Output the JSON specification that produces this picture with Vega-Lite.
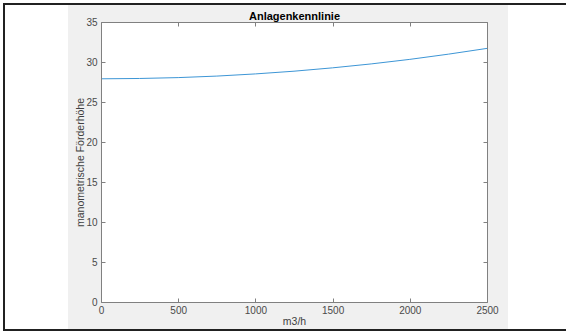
{
  "$schema": "https://vega.github.io/schema/vega-lite/v6.json",
  "width": 386,
  "height": 280,
  "autosize": {"type": "none"},
  "padding": {"left": 101, "top": 22, "right": 79, "bottom": 29},
  "background": "white",
  "config": {
    "view": {"stroke": null},
    "font": "Liberation Sans",
    "axis": {
      "domainColor": "#808080",
      "domainWidth": 1,
      "tickColor": "#808080",
      "tickWidth": 1,
      "tickSize": -4,
      "grid": false,
      "labelFont": "Liberation Sans",
      "labelFontSize": 10,
      "labelColor": "#4a4a4a",
      "titleFont": "Liberation Sans",
      "titleFontSize": 10.5,
      "titleFontWeight": "normal",
      "titleColor": "#404040"
    }
  },
  "data": {
    "values": [
      {"Q": 0, "H": 27.90},
      {"Q": 250, "H": 27.94},
      {"Q": 500, "H": 28.05},
      {"Q": 750, "H": 28.24},
      {"Q": 1000, "H": 28.51},
      {"Q": 1250, "H": 28.85},
      {"Q": 1500, "H": 29.27},
      {"Q": 1750, "H": 29.76},
      {"Q": 2000, "H": 30.33},
      {"Q": 2250, "H": 30.98},
      {"Q": 2500, "H": 31.70}
    ]
  },
  "resolve": {"axis": {"x": "independent", "y": "independent"}},
  "layer": [
    {
      "mark": {"type": "rect", "fill": "#f0f0f0", "clip": false},
      "encoding": {
        "x": {"datum": -214, "type": "quantitative", "scale": {"domain": [0, 2500], "nice": false, "zero": false}, "axis": null},
        "x2": {"datum": 2636},
        "y": {"datum": 37.1, "type": "quantitative", "scale": {"domain": [0, 35], "nice": false, "zero": false}, "axis": null},
        "y2": {"datum": -3.5}
      }
    },
    {
      "mark": {"type": "rect", "fill": null, "stroke": "#222222", "strokeWidth": 1.5, "clip": false},
      "encoding": {
        "x": {"datum": -628, "type": "quantitative", "scale": {"domain": [0, 2500], "nice": false, "zero": false}, "axis": null},
        "x2": {"datum": 3300},
        "y": {"datum": 37.25, "type": "quantitative", "scale": {"domain": [0, 35], "nice": false, "zero": false}, "axis": null},
        "y2": {"datum": -3.5}
      }
    },
    {
      "mark": {"type": "rect", "fill": "white", "clip": false},
      "encoding": {
        "x": {"datum": 0, "type": "quantitative", "scale": {"domain": [0, 2500], "nice": false, "zero": false}, "axis": null},
        "x2": {"datum": 2500},
        "y": {"datum": 35, "type": "quantitative", "scale": {"domain": [0, 35], "nice": false, "zero": false}, "axis": null},
        "y2": {"datum": 0}
      }
    },
    {
      "mark": {"type": "line", "opacity": 0, "clip": false},
      "encoding": {
        "x": {"field": "Q", "type": "quantitative", "scale": {"domain": [0, 2500], "nice": false, "zero": false},
              "axis": {"orient": "top", "zindex": 2, "labels": false, "title": "Anlagenkennlinie", "titleFontWeight": "bold", "titleFontSize": 11, "titleColor": "#000000", "titlePadding": 0, "values": [0, 500, 1000, 1500, 2000, 2500]}},
        "y": {"field": "H", "type": "quantitative", "scale": {"domain": [0, 35], "nice": false, "zero": false},
              "axis": {"orient": "right", "zindex": 2, "labels": false, "title": null, "values": [0, 5, 10, 15, 20, 25, 30, 35]}}
      }
    },
    {
      "mark": {"type": "line", "color": "#3d96d6", "strokeWidth": 1, "interpolate": "monotone", "clip": false},
      "encoding": {
        "x": {"field": "Q", "type": "quantitative", "scale": {"domain": [0, 2500], "nice": false, "zero": false},
              "axis": {"orient": "bottom", "zindex": 2, "title": "m3/h", "format": "d", "values": [0, 500, 1000, 1500, 2000, 2500], "labelPadding": 7, "titlePadding": 1, "labelFlush": false}},
        "y": {"field": "H", "type": "quantitative", "scale": {"domain": [0, 35], "nice": false, "zero": false},
              "axis": {"orient": "left", "zindex": 2, "title": "manometrische Förderhöhe", "values": [0, 5, 10, 15, 20, 25, 30, 35], "labelPadding": 8, "titlePadding": 0, "labelFlush": false}}
      }
    }
  ]
}
